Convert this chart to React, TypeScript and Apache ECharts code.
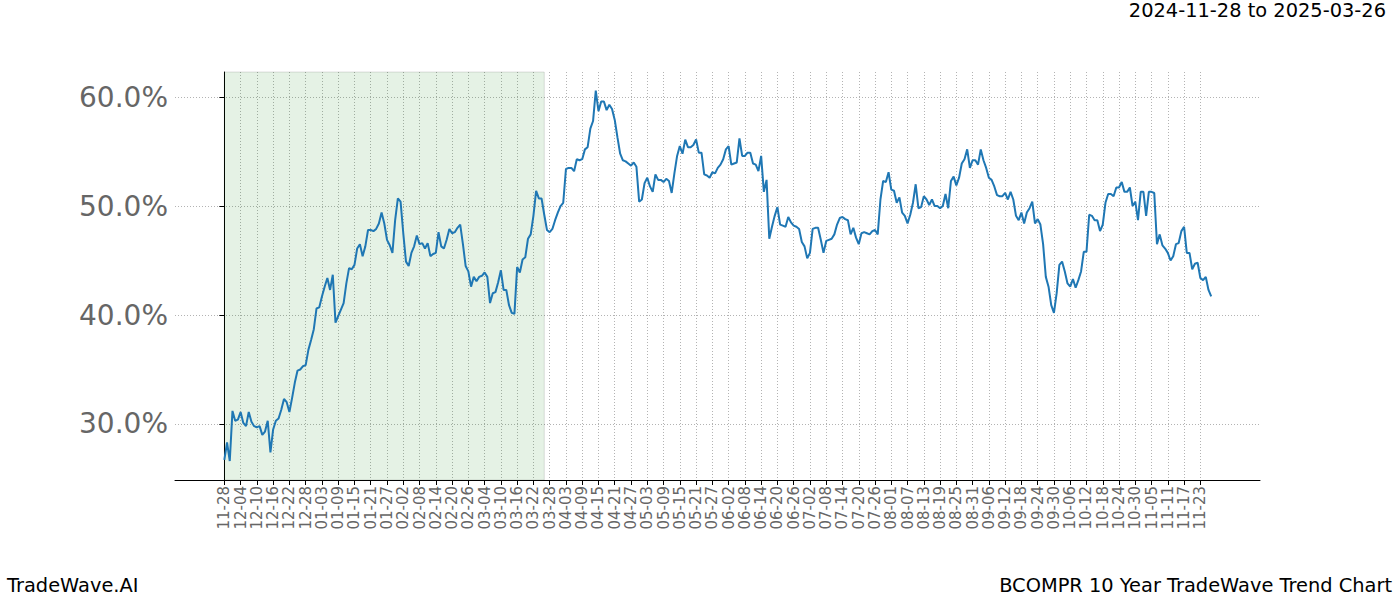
import React, { useEffect, useRef } from "react";
import * as echarts from "echarts";

// Tick labels every 6 days starting 2024-11-28 (day 0)
const TICK_LABELS = [
  "11-28", "12-04", "12-10", "12-16", "12-22", "12-28", "01-03", "01-09", "01-15", "01-21",
  "01-27", "02-02", "02-08", "02-14", "02-20", "02-26", "03-04", "03-10", "03-16", "03-22",
  "03-28", "04-03", "04-09", "04-15", "04-21", "04-27", "05-03", "05-09", "05-15", "05-21",
  "05-27", "06-02", "06-08", "06-14", "06-20", "06-26", "07-02", "07-08", "07-14", "07-20",
  "07-26", "08-01", "08-07", "08-13", "08-19", "08-25", "08-31", "09-06", "09-12", "09-18",
  "09-24", "09-30", "10-06", "10-12", "10-18", "10-24", "10-30", "11-05", "11-11", "11-17",
  "11-23",
];
const TICK_STEP_DAYS = 6;

// Daily trend values (%), day 0 = 2024-11-28
const VALUES_DEC_JAN = [
  26.7, 28.3, 26.6, 31.2, 30.3, 30.4, 31.1, 30.1, 29.8, 31.1,
  30.2, 29.8, 29.7, 29.8, 29.0, 29.3, 30.3, 27.4, 29.5, 30.3,
  30.5, 31.3, 32.3, 32.0, 31.1, 32.4, 33.8, 34.9, 35.0, 35.3,
  35.4, 36.8, 37.7, 38.7, 40.6, 40.7, 41.7, 42.6, 43.4, 42.3,
  43.7, 39.3, 39.9, 40.5, 41.1, 42.9, 44.3, 44.2, 44.6, 46.1,
  46.5, 45.4, 46.3, 47.8, 47.8, 47.7, 47.9, 48.4,
];
const VALUES_FEB_MAR = [
  49.4, 48.4, 46.9, 46.4, 45.7, 48.7, 50.7, 50.4, 47.5, 44.9,
  44.5, 45.7, 46.3, 47.3, 46.5, 46.6, 46.1, 46.6, 45.4, 45.6,
  45.7, 47.6, 46.3, 46.1, 46.9, 47.9, 47.5, 47.6, 48.0, 48.3,
  46.5, 44.5, 44.0, 42.6, 43.5, 43.1, 43.5, 43.6, 43.9, 43.5,
  41.1, 42.0, 42.1, 43.0, 44.1, 42.3, 42.3, 40.9, 40.2, 40.1,
  44.4, 43.9, 45.1, 45.3, 47.0, 47.4, 49.1, 51.4, 50.7, 50.7,
  49.2, 47.8, 47.6, 47.9, 48.7, 49.4, 50.0, 50.3, 53.4, 53.5,
];
const VALUES_APR_JUN = [
  53.5, 53.2, 54.3, 54.2, 54.3, 55.2, 55.4, 57.1, 57.8, 60.6,
  58.7, 59.6, 59.6, 58.8, 59.3, 58.9, 57.9, 56.3, 54.8, 54.2,
  54.1, 53.9, 53.7, 54.0, 53.6, 50.4, 50.6, 52.1, 52.6, 51.8,
  51.3, 52.9, 52.4, 52.4, 52.2, 52.5, 52.3, 51.2, 53.0, 54.6,
  55.5, 54.8, 56.1, 55.4, 55.4, 55.6, 56.1, 54.9, 54.9, 52.9,
  52.8, 52.6, 53.1, 53.0, 53.5, 53.8, 54.3, 55.2, 55.5, 53.8,
  53.9, 54.0, 56.2, 54.6, 54.6, 54.9, 54.9, 53.9, 53.8, 53.2,
  54.6,
];
const VALUES_JUN_AUG = [
  51.3, 52.4, 47.0, 48.1, 49.1, 49.9, 48.3, 48.2, 48.1, 49.0,
  48.5, 48.2, 48.1, 47.9, 46.7, 46.3, 45.2, 45.7, 47.9, 48.0,
  48.0, 46.9, 45.7, 46.8, 46.9, 47.0, 47.4, 48.3, 48.9, 49.0,
  48.8, 48.7, 47.4, 48.0, 47.1, 46.5, 47.5, 47.6, 47.5, 47.4,
  47.7, 47.8, 47.4, 50.6, 52.3, 52.2, 53.1, 51.5, 51.4, 50.3,
  50.8, 49.4, 49.1, 48.4, 49.2, 50.3, 52.0, 49.8, 49.9, 50.9,
  50.6, 50.1, 50.6, 50.0, 50.0, 49.8, 50.0, 51.1, 49.8, 52.3,
];
const VALUES_AUG_OCT = [
  52.7, 51.9, 52.6, 53.9, 54.3, 55.2, 53.5, 54.2, 54.2, 53.8,
  55.2, 54.2, 53.5, 52.6, 52.4, 51.8, 51.0, 50.9, 50.9, 51.2,
  50.6, 51.3, 50.6, 49.1, 48.7, 49.4, 48.4, 49.4, 49.8, 50.4,
  48.4, 48.8, 48.3, 46.5, 43.5, 42.6, 40.9, 40.2, 42.0, 44.6,
  44.9, 44.0, 42.9, 42.6, 43.3, 42.5, 43.2, 44.0, 45.8, 45.8,
  49.2, 49.1, 48.7, 48.7, 47.7, 48.3, 50.3, 51.1, 51.1, 50.9,
  51.7, 51.7, 52.2, 51.3, 51.3, 51.7, 50.0, 50.4, 48.7, 51.3,
];
const VALUES_NOV = [
  51.3, 49.1, 51.3, 51.3, 51.2, 46.5, 47.4, 46.4, 46.1, 45.7,
  45.0, 45.4, 46.5, 46.6, 47.7, 48.1, 45.7, 45.7, 44.2, 44.7,
  44.8, 43.4, 43.2, 43.5, 42.3, 41.7,
];
const VALUES = [
  ...VALUES_DEC_JAN,
  ...VALUES_FEB_MAR,
  ...VALUES_APR_JUN,
  ...VALUES_JUN_AUG,
  ...VALUES_AUG_OCT,
  ...VALUES_NOV,
];

// Shaded window: 2024-11-28 (day 0) to 2025-03-26 (day 118)
const SHADE_START_DAY = 0;
const SHADE_END_DAY = 118;

const TITLE_RANGE = "2024-11-28 to 2025-03-26";
const FOOTER_LEFT = "TradeWave.AI";
const FOOTER_RIGHT = "BCOMPR 10 Year TradeWave Trend Chart";
const Y_TICKS = [30, 40, 50, 60];

const FONT = "DejaVu Sans, sans-serif";

export default function App() {
  const ref = useRef<HTMLDivElement>(null);

  useEffect(() => {
    if (!ref.current) return;
    const chart = echarts.init(ref.current, null, { renderer: "svg" });
    const tickDays = TICK_LABELS.map((_, i) => i * TICK_STEP_DAYS);

    chart.setOption({
      animation: false,
      backgroundColor: "#ffffff",
      textStyle: { fontFamily: FONT },
      grid: {
        left: 175,
        right: 140,
        top: 72,
        bottom: 120,
        containLabel: false,
        outerBoundsMode: "none",
      },
      xAxis: {
        type: "value",
        min: -18.2,
        max: 382,
        axisLine: { show: true, lineStyle: { color: "#000", width: 1 } },
        axisTick: {
          show: true,
          customValues: tickDays,
          length: 5,
          lineStyle: { color: "#000" },
        },
        axisLabel: {
          customValues: tickDays,
          rotate: 90,
          fontSize: 15,
          color: "#666666",
          fontFamily: FONT,
          margin: 6,
          formatter: (v: number) => TICK_LABELS[Math.round(v / TICK_STEP_DAYS)] ?? "",
        },
        splitLine: {
          show: true,
          lineStyle: { color: "#a0a0a0", type: [1, 2], width: 0.8 },
        },
      },
      yAxis: {
        type: "value",
        min: 24.86,
        max: 62.3,
        axisLine: { show: true, lineStyle: { color: "#000", width: 1 } },
        axisTick: {
          show: true,
          customValues: Y_TICKS,
          length: 5,
          lineStyle: { color: "#000" },
        },
        axisLabel: {
          customValues: Y_TICKS,
          fontSize: 28,
          color: "#666666",
          fontFamily: FONT,
          margin: 7,
          formatter: (v: number) => v.toFixed(1) + "%",
        },
        splitLine: {
          show: true,
          lineStyle: { color: "#a0a0a0", type: [1, 2], width: 0.8 },
        },
      },
      series: [
        {
          type: "line",
          data: VALUES.map((v, i) => [i, v]),
          showSymbol: false,
          symbol: "none",
          lineStyle: { color: "#1f77b4", width: 2 },
          itemStyle: { color: "#1f77b4" },
          z: 3,
          markArea: {
            silent: true,
            itemStyle: {
              color: "rgba(0,128,0,0.1)",
              borderColor: "rgba(0,0,0,0.12)",
              borderWidth: 1,
            },
            data: [[{ xAxis: SHADE_START_DAY }, { xAxis: SHADE_END_DAY }]],
          },
        },
      ],
      graphic: [
        {
          type: "text",
          right: 14,
          top: 1,
          style: { text: TITLE_RANGE, fontSize: 19.4, fill: "#000", fontFamily: FONT },
        },
        {
          type: "text",
          left: 7,
          top: 576,
          style: { text: FOOTER_LEFT, fontSize: 19.4, fill: "#000", fontFamily: FONT },
        },
        {
          type: "text",
          right: 8,
          top: 576,
          style: { text: FOOTER_RIGHT, fontSize: 19.4, fill: "#000", fontFamily: FONT },
        },
      ],
    });

    return () => chart.dispose();
  }, []);

  return (
    <div
      ref={ref}
      style={{ position: "fixed", left: 0, top: 0, width: 1400, height: 600 }}
    />
  );
}
